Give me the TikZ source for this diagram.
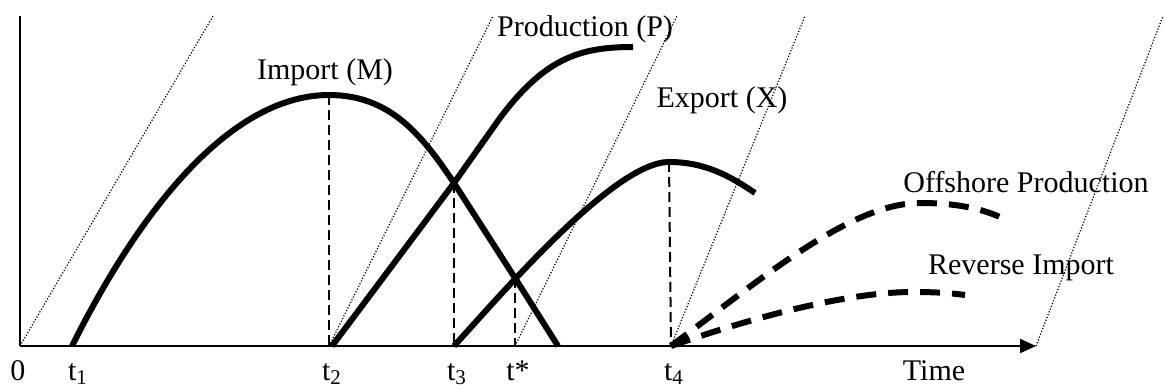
\documentclass[tikz,border=0pt]{standalone}
\usepackage{fontspec}
\setmainfont{Liberation Serif}
\usetikzlibrary{arrows.meta}

\begin{document}
\begin{tikzpicture}[x=0.5pt, y=-0.5pt,
  font=\fontsize{15}{18}\selectfont,
  axis/.style={line width=1pt},
  curve/.style={line width=3pt},
  offcurve/.style={line width=3pt, dash pattern=on 10pt off 6pt},
  guide/.style={line width=0.6pt, dash pattern=on 0.6pt off 0.9pt},
  drop/.style={line width=1pt, dash pattern=on 5pt off 2.5pt},
  lbl/.style={anchor=base, inner sep=0pt}]

  \useasboundingbox (0,0) rectangle (1165,389);

  % axes
  \coordinate (O) at (20,346);
  \coordinate (Top) at (20,16);
  \coordinate (End) at (1036,346);
  \draw[axis] (Top) -- (O);
  \draw[axis, -{Triangle[length=8pt, width=7pt]}] (O) -- (End);

  % points on the time axis
  \coordinate (T1) at (72,346);
  \coordinate (T2) at (329,346);
  \coordinate (T3) at (454,346);
  \coordinate (Ts) at (515,346);
  \coordinate (T4) at (671,346);

  % dotted guide lines
  \draw[guide] (O) -- (213,16);
  \draw[guide] (T2) -- (493,16);
  \draw[guide] (Ts) -- (677,16);
  \draw[guide] (T4) -- (805,16);
  \draw[guide] (End) -- (1163,16);

  % peaks and crossings
  \coordinate (PM) at (329,95);
  \coordinate (PX) at (669,162);
  \coordinate (C1) at (454,183);
  \coordinate (C2) at (515,278);

  % import (M)
  \draw[curve] (T1) .. controls (150,190) and (240,95) .. (PM)
    .. controls (390,95) and (422,135) .. (C1) -- (C2) -- (558,346);

  % production (P)
  \draw[curve] (332,346) -- (C1) -- (500,118)
    .. controls (545,58) and (580,47) .. (633,47);

  % export (X)
  \draw[curve] (T3) .. controls (505,290) and (615,162) .. (PX)
    .. controls (705,162) and (730,176) .. (755,193);

  % offshore production and reverse import
  \draw[offcurve] (T4) .. controls (760,280) and (850,203) .. (920,203)
    .. controls (960,203) and (985,210) .. (1002,218);
  \draw[offcurve] (T4) .. controls (760,315) and (850,292) .. (913,292)
    .. controls (935,292) and (950,293) .. (965,295);

  % drop lines
  \draw[drop] (PM) -- (T2);
  \draw[drop] (C1) -- (T3);
  \draw[drop] (C2) -- (Ts);
  \draw[drop] (PX) -- (T4);

  % labels
  \node[lbl] (l0) at (18,380) {0};
  \node[lbl] (l1) at (78,380) {t\textsubscript{1}};
  \node[lbl] (l2) at (332,380) {t\textsubscript{2}};
  \node[lbl] (l3) at (457,380) {t\textsubscript{3}};
  \node[lbl] (ls) at (518,380) {t*};
  \node[lbl] (l4) at (674,380) {t\textsubscript{4}};
  \node[lbl] (time) at (934,380) {Time};

  \node[lbl] (mlab) at (325,80) {Import (M)};
  \node[lbl] (plab) at (585,37) {Production (P)};
  \node[lbl] (xlab) at (722,108) {Export (X)};
  \node[lbl] (olab) at (1026,193) {Offshore Production};
  \node[lbl] (rlab) at (1021,275) {Reverse Import};

\end{tikzpicture}
\end{document}
